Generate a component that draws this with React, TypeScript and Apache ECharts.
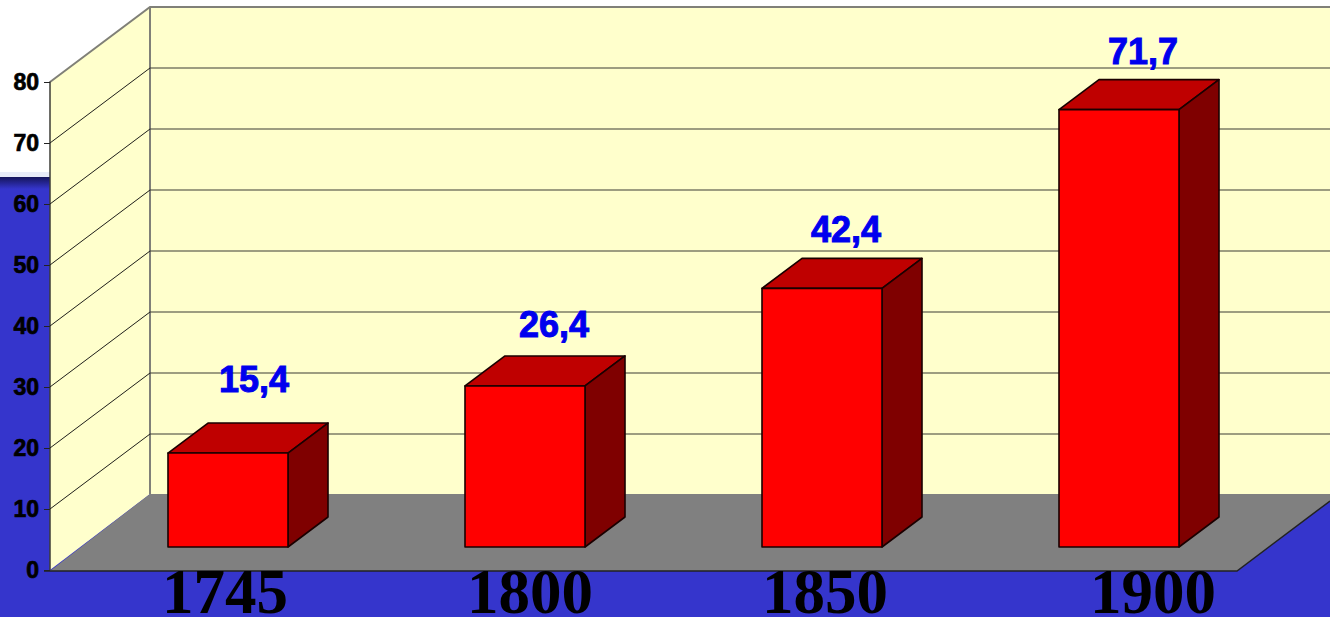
import React, { useEffect, useRef } from "react";
import * as echarts from "echarts";

const years = ["1745", "1800", "1850", "1900"];
const values = [15.4, 26.4, 42.4, 71.7];
const wallTicks = [10, 20, 30, 40, 50, 60, 70];

export default function App() {
  const ref = useRef<HTMLDivElement>(null);
  useEffect(() => {
    const chart = echarts.init(ref.current!, undefined, { renderer: "svg" });
    const DY = 75; // wall depth
    const barW = 120, bx = 40, by = 30, lift = 23;
    const yearShift = [-3, 5, 3, 34];
    const labelLift = [44, 31, 29, 28];
    const labelShift = [26, 29, 24, 24];

    chart.setOption({
      animation: false,
      backgroundColor: "#ffffff",
      grid: { left: 79.5, width: 1188, top: 82, height: 488, containLabel: false, outerBoundsMode: "none" },
      xAxis: {
        type: "category",
        data: years.map((y, i) => ({
          value: y,
          textStyle: {
            padding: yearShift[i] >= 0 ? [0, 0, 0, 2 * yearShift[i]] : [0, -2 * yearShift[i], 0, 0],
          },
        })),
        axisLine: { show: false },
        axisTick: { show: false },
        axisLabel: {
          interval: 0,
          margin: -1,
          color: "#000",
          fontFamily: "Liberation Serif",
          fontWeight: "bold",
          fontSize: 63,
          lineHeight: 46,
        },
      },
      yAxis: {
        type: "value",
        min: 0,
        max: 80,
        interval: 10,
        offset: 29.5,
        splitLine: { show: false },
        axisLine: { show: true, lineStyle: { color: "#3c3c36", width: 1.5 } },
        axisTick: { show: true, length: 6, lineStyle: { color: "#222", width: 1 } },
        axisLabel: {
          margin: 11,
          color: "#000",
          fontFamily: "Liberation Sans",
          fontWeight: "bold",
          fontSize: 23,
          padding: [2, 0, 0, 0],
          textBorderColor: "#000",
          textBorderWidth: 0.7,
        },
      },
      graphic: [
        { type: "rect", z: -10, shape: { x: 0, y: 172, width: 1330, height: 6 }, style: { fill: "#e8ecf8" } },
        { type: "rect", z: -10, shape: { x: 0, y: 177, width: 1330, height: 440 }, style: { fill: "#3535cc" } },
        {
          type: "rect", z: -9, shape: { x: 0, y: 177, width: 1330, height: 12 },
          style: {
            fill: new echarts.graphic.LinearGradient(0, 0, 0, 1, [
              { offset: 0, color: "#15155a" },
              { offset: 1, color: "#3535cc" },
            ]),
          },
        },
        {
          type: "polygon", z: -8,
          shape: { points: [[50, 82], [150, 7], [150, 494], [50, 570]] },
          style: { fill: "#ffffcc" },
        },
        {
          type: "rect", z: -8, shape: { x: 150, y: 7, width: 1180, height: 488 },
          style: { fill: "#ffffcc" },
        },
        {
          type: "polygon", z: -7,
          shape: { points: [[50, 571], [150, 494], [1330, 494], [1330, 501], [1237, 571]] },
          style: { fill: "#808080" },
        },
        {
          type: "polyline", z: -6,
          shape: { points: [[50, 82], [150, 7], [1330, 7]] },
          style: { stroke: "#808078", lineWidth: 2, fill: "none" },
        },
        {
          type: "line", z: -6, shape: { x1: 150, y1: 7, x2: 150, y2: 494 },
          style: { stroke: "#808078", lineWidth: 2 },
        },
        {
          type: "polyline", z: -6,
          shape: { points: [[44, 571], [1237, 571], [1330, 501]] },
          style: { stroke: "#222", lineWidth: 1.5, fill: "none" },
        },
      ],
      series: [
        {
          type: "custom",
          z: 1,
          silent: true,
          clip: false,
          coordinateSystem: "cartesian2d",
          encode: { x: 0, y: 1 },
          data: wallTicks.map((t) => [0, t]),
          renderItem: (_p: any, api: any) => {
            const y = api.coord([0, api.value(1)])[1];
            return {
              type: "group",
              children: [
                {
                  type: "line",
                  shape: { x1: 50, y1: y, x2: 150, y2: y - DY },
                  style: { stroke: "#1e1e1a", lineWidth: 1 },
                },
                {
                  type: "line",
                  shape: { x1: 150, y1: y - DY, x2: 1330, y2: y - DY },
                  style: { stroke: "#3c3c34", lineWidth: 1.2 },
                },
              ],
            };
          },
        },
        {
          type: "custom",
          z: 3,
          silent: true,
          clip: false,
          coordinateSystem: "cartesian2d",
          encode: { x: 0, y: 1 },
          data: values.map((v, i) => [i, v]),
          renderItem: (p: any, api: any) => {
            const i = api.value(0);
            const v = api.value(1);
            const [cx, top0] = api.coord([i, v]);
            const base = api.coord([i, 0])[1] - lift;
            const top = top0 - lift;
            const l = cx - barW / 2, r = cx + barW / 2;
            const edge = { stroke: "#1a0000", lineWidth: 1.6, lineJoin: "round" };
            return {
              type: "group",
              children: [
                {
                  type: "polygon",
                  shape: { points: [[l, top], [r, top], [r + bx, top - by], [l + bx, top - by]] },
                  style: { fill: "#bf0000", ...edge },
                },
                {
                  type: "polygon",
                  shape: { points: [[r, top], [r + bx, top - by], [r + bx, base - by], [r, base]] },
                  style: { fill: "#7f0000", ...edge },
                },
                {
                  type: "rect",
                  shape: { x: l, y: top, width: barW, height: base - top },
                  style: { fill: "#ff0000", ...edge },
                },
                {
                  type: "text",
                  style: {
                    x: cx + labelShift[p.dataIndex],
                    y: top - by - labelLift[p.dataIndex],
                    text: String(v).replace(".", ","),
                    fill: "#0000ee",
                    stroke: "#0000ee",
                    lineWidth: 1,
                    font: 'bold 36px "Liberation Sans"',
                    align: "center",
                    verticalAlign: "middle",
                  },
                },
              ],
            };
          },
        },
      ],
    });
    return () => chart.dispose();
  }, []);
  return (
    <div
      ref={ref}
      style={{ position: "fixed", left: 0, top: 0, width: 1330, height: 618 }}
    />
  );
}
